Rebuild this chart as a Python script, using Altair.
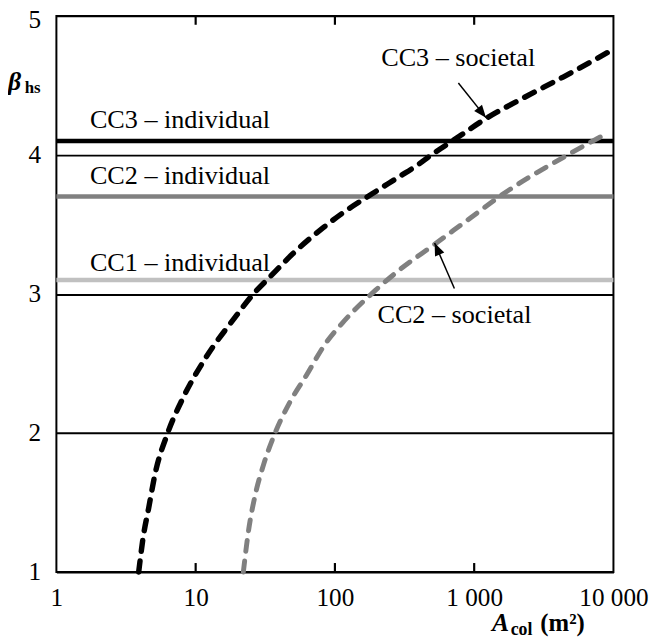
import altair as alt
import pandas as pd

FONT = "'Liberation Serif', 'Times New Roman', Times, serif"

# axis ticks
tick_values = [1, 10, 100, 1000, 10000]
tick_labels = ["1", "10", "100", "1 000", "10 000"]
y_ticks = [1, 2, 3, 4, 5]

# CC3 - societal (black dashed)
cc3_A = [3.9, 4.2, 4.6, 5.1, 6.3, 8.1, 11.8, 18.8, 26, 34, 50, 82, 113, 185, 286, 396, 493, 721, 1210, 2260, 4350, 10000]
cc3_beta = [1.0, 1.25, 1.46, 1.70, 2.0, 2.25, 2.54, 2.82, 3.0, 3.12, 3.29, 3.475, 3.58, 3.72, 3.84, 3.93, 4.0, 4.11, 4.26, 4.41, 4.56, 4.76]

# CC2 - societal (grey dashed)
cc2_A = [22, 24, 26.8, 30.7, 37.2, 47.4, 62, 86, 113, 195, 286, 520, 950, 1600, 4700, 8800]
cc2_beta = [1.0, 1.30, 1.556, 1.77, 2.0, 2.22, 2.41, 2.646, 2.79, 3.025, 3.167, 3.357, 3.55, 3.716, 4.0, 4.15]

# individual target levels
indiv_names = ["CC3 – individual", "CC2 – individual", "CC1 – individual"]
indiv_beta = [4.1, 3.7, 3.1]
indiv_colors = ["#000000", "#808080", "#c0c0c0"]

# annotation labels
label_text = ["CC3 – individual", "CC2 – individual", "CC1 – individual", "CC3 – societal", "CC2 – societal"]
label_x = [1.74, 1.74, 1.74, 215, 202]
label_y = [4.19, 3.79, 3.167, 4.638, 2.79]

# arrows (start -> tip)
arrow_x = [770, 721]
arrow_y = [4.517, 3.039]
arrow_x2 = [1216, 520]
arrow_y2 = [4.268, 3.366]
arrow_angle = [141, 336.5]

W, H = 564, 563

label_expr = " : ".join(
    [f"datum.value == {v} ? '{t}'" for v, t in zip(tick_values, tick_labels)]
) + " : ''"

xs = alt.Scale(type="log", domain=[1, 10000], nice=False)
ys = alt.Scale(domain=[1, 5], nice=False, zero=False)

cc3 = pd.DataFrame({"A": cc3_A, "beta": cc3_beta, "o": range(len(cc3_A))})
cc2 = pd.DataFrame({"A": cc2_A, "beta": cc2_beta, "o": range(len(cc2_A))})
indiv = pd.DataFrame({"name": indiv_names, "beta": indiv_beta, "color": indiv_colors})
labels = pd.DataFrame({"text": label_text, "x": label_x, "y": label_y})
arrows = pd.DataFrame({"x": arrow_x, "y": arrow_y, "x2": arrow_x2, "y2": arrow_y2, "ang": arrow_angle})
# inward ticks on bottom and top frame (length in beta units ~ 9 px)
inner_ticks = pd.DataFrame({"v": tick_values[1:-1], "b": [1.0] * 3, "b2": [1.064] * 3,
                            "t": [5.0] * 3, "t2": [4.936] * 3})

bottom_axis = alt.Axis(
    orient="bottom", values=tick_values, labelExpr=label_expr, ticks=False,
    domain=False, grid=False, labelFont=FONT, labelFontSize=25.5, labelColor="black",
    labelPadding=14, title=None, labelFlush=False,
)
y_axis = alt.Axis(
    orient="left", values=y_ticks, ticks=False, domain=False, grid=True, gridColor="black",
    gridWidth=2, gridOpacity=1, labelFont=FONT, labelFontSize=25.5, labelColor="black",
    labelPadding=16, title=None, labelOffset=alt.expr("datum.value == 5 ? 4 : 0"),
)

rules = alt.Chart(indiv).mark_rule(strokeWidth=4.5).encode(
    y=alt.Y("beta:Q", scale=ys, axis=y_axis),
    color=alt.Color("color:N", scale=None),
)

ticks_bottom = alt.Chart(inner_ticks).mark_rule(color="black", strokeWidth=2.2).encode(
    x=alt.X("v:Q", scale=xs, axis=None),
    y=alt.Y("b:Q", scale=ys, axis=None), y2="b2:Q",
)
ticks_top = alt.Chart(inner_ticks).mark_rule(color="black", strokeWidth=2.2).encode(
    x=alt.X("v:Q", scale=xs, axis=None),
    y=alt.Y("t:Q", scale=ys, axis=None), y2="t2:Q",
)

line3 = alt.Chart(cc3).mark_line(
    color="black", strokeWidth=5.5, strokeDash=[11, 10], strokeCap="round", interpolate="monotone"
).encode(
    x=alt.X("A:Q", scale=xs, axis=bottom_axis),
    y=alt.Y("beta:Q", scale=ys, axis=None),
    order="o:O",
)

line2 = alt.Chart(cc2).mark_line(
    color="#808080", strokeWidth=5, strokeDash=[11, 10], strokeCap="round", interpolate="monotone"
).encode(
    x=alt.X("A:Q", scale=xs, axis=None),
    y=alt.Y("beta:Q", scale=ys, axis=None),
    order="o:O",
)

text = alt.Chart(labels).mark_text(
    align="left", baseline="alphabetic", font=FONT, fontSize=26.5, color="black"
).encode(
    x=alt.X("x:Q", scale=xs, axis=None),
    y=alt.Y("y:Q", scale=ys, axis=None),
    text="text:N",
)

arrow_lines = alt.Chart(arrows).mark_rule(color="black", strokeWidth=1.5).encode(
    x=alt.X("x:Q", scale=xs, axis=None),
    y=alt.Y("y:Q", scale=ys, axis=None),
    x2="x2:Q",
    y2="y2:Q",
)
arrow_heads = alt.Chart(arrows).mark_point(
    shape="M0,0L-0.4,1L0.4,1Z", filled=True, color="black", opacity=1, size=650
).encode(
    x=alt.X("x2:Q", scale=xs, axis=None),
    y=alt.Y("y2:Q", scale=ys, axis=None),
    angle=alt.Angle("ang:Q", scale=None),
)

# axis titles as text (beta_hs and A_col (m2))
ytitle_main = pd.DataFrame({"t": ["β"], "x": [0.449], "y": [4.467]})
ytitle_sub = pd.DataFrame({"t": ["hs"], "x": [0.593], "y": [4.446]})
xtitle_main = pd.DataFrame({"t": ["A"], "x": [1342], "y": [0.575]})
xtitle_sub = pd.DataFrame({"t": ["col"], "x": [1829], "y": [0.548]})
xtitle_unit = pd.DataFrame({"t": ["(m²)"], "x": [2986], "y": [0.575]})


def title_text(df, size, style):
    return alt.Chart(df).mark_text(
        align="left", baseline="alphabetic", font=FONT, fontSize=size,
        fontWeight="bold", fontStyle=style, color="black",
    ).encode(
        x=alt.X("x:Q", scale=xs, axis=None),
        y=alt.Y("y:Q", scale=ys, axis=None),
        text="t:N",
    )


chart = alt.layer(
    rules, ticks_bottom, ticks_top, line3, line2, text, arrow_lines, arrow_heads,
    title_text(ytitle_main, 26, "italic"),
    title_text(ytitle_sub, 17, "normal"),
    title_text(xtitle_main, 26, "italic"),
    title_text(xtitle_sub, 18, "normal"),
    title_text(xtitle_unit, 25, "normal"),
).resolve_axis(x="independent", y="independent").properties(
    width=W, height=H,
    padding={"left": 49, "top": 4, "right": 36, "bottom": 69},
    autosize=alt.AutoSizeParams(type="none"),
    background="white",
).configure_view(stroke="black", strokeWidth=2)

chart.save("out.html", embed_options={"renderer": "svg", "actions": False})
